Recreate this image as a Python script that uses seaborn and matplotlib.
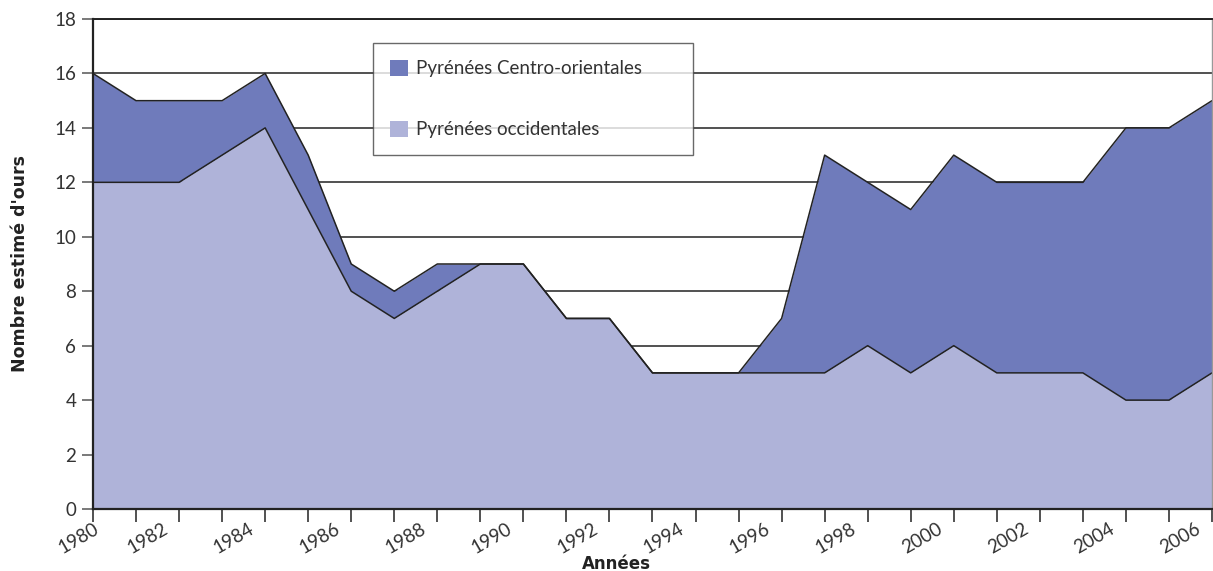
import matplotlib
matplotlib.use("Agg")
import matplotlib.pyplot as plt
import matplotlib.transforms as mtransforms
import seaborn as sns
import numpy as np
import pandas as pd
from matplotlib.patches import Patch

years = list(range(1980, 2007))
occidentales = [12, 12, 12, 13, 14, 11, 8, 7, 8, 9, 9, 7, 7, 5, 5, 5, 5, 5, 6, 5, 6, 5, 5, 5, 4, 4, 5]
total = [16, 15, 15, 15, 16, 13, 9, 8, 9, 9, 9, 7, 7, 5, 5, 5, 7, 13, 12, 11, 13, 12, 12, 12, 14, 14, 15]
series_names = ["Pyrénées Centro-orientales", "Pyrénées occidentales"]
y_ticks = list(range(0, 19, 2))
x_label_years = list(range(1980, 2007, 2))

dark = "#6f7bbb"
light = "#afb3d9"

sns.set_style("white")
plt.rcParams["font.family"] = ["Lato", "DejaVu Sans"]

df = pd.DataFrame({"year": years, "occ": occidentales, "total": total})

fig = plt.figure(figsize=(12.13, 5.71), dpi=100)
ax = fig.add_axes([93 / 1213, 1 - 509 / 571, (1212 - 93) / 1213, (509 - 19) / 571])

# gridlines behind
for v in y_ticks[1:]:
    ax.axhline(v, color="#222222", lw=1.1, zorder=0)

ax.fill_between(df["year"], df["occ"], df["total"], color=dark, lw=0, zorder=1)
ax.fill_between(df["year"], 0, df["occ"], color=light, lw=0, zorder=1)
sns.lineplot(data=df, x="year", y="total", color="#222222", lw=1.1, ax=ax, zorder=2)
sns.lineplot(data=df, x="year", y="occ", color="#222222", lw=1.1, ax=ax, zorder=2)

ax.set_xlim(1980, 2006)
ax.set_ylim(0, 18)

ax.set_yticks(y_ticks)
ax.set_yticklabels([str(v) for v in y_ticks], fontsize=13.5, color="#333333")
ax.set_xticks(years)
ax.set_xticklabels([str(y) if y in x_label_years else "" for y in years],
                   rotation=30, ha="right", rotation_mode="anchor", fontsize=13.5, color="#333333")
ax.tick_params(axis="x", direction="out", length=9, width=1.1, color="#222222", pad=0, bottom=True)
ax.tick_params(axis="y", direction="out", length=8, width=1.1, color="#555555", pad=4, left=True)

for y, lab in zip(years, ax.get_xticklabels()):
    dx = 0 if y == 1980 else -17
    lab.set_transform(lab.get_transform() +
                      mtransforms.ScaledTranslation(dx / 100, 1 / 100, fig.dpi_scale_trans))

for s in ["left", "bottom"]:
    ax.spines[s].set_color("#222222")
    ax.spines[s].set_linewidth(1.6)
ax.spines["top"].set_color("#222222")
ax.spines["top"].set_linewidth(1.4)
ax.spines["right"].set_color("#999999")
ax.spines["right"].set_linewidth(1.0)
for s in ax.spines.values():
    s.set_zorder(3)

ax.set_xlabel("Années", fontsize=12, fontweight="bold", color="#222222",
              family=["DejaVu Sans"])
ax.set_ylabel("Nombre estimé d'ours", fontsize=12.5, fontweight="bold", color="#222222",
              family=["DejaVu Sans"])
ax.yaxis.set_label_coords(-64 / 1119, 0.5)
ax.xaxis.set_label_coords((616 - 93) / 1119, -46 / 490)

handles = [Patch(facecolor=dark, edgecolor="none"), Patch(facecolor=light, edgecolor="none")]
leg = ax.legend(handles, series_names, loc="upper left",
                bbox_to_anchor=((373 - 93) / 1119, (509 - 43) / 490, (693 - 373) / 1119, 0.0),
                mode="expand", borderaxespad=0, frameon=True, fancybox=False,
                fontsize=13.5, labelspacing=2.3, handlelength=0.95, handleheight=0.95,
                handletextpad=0.45, borderpad=0.9)
leg.get_frame().set_edgecolor("#444444")
leg.get_frame().set_linewidth(1.0)
leg.set_zorder(5)
for t in leg.get_texts():
    t.set_color("#333333")

fig.savefig("out.png", dpi=100)
